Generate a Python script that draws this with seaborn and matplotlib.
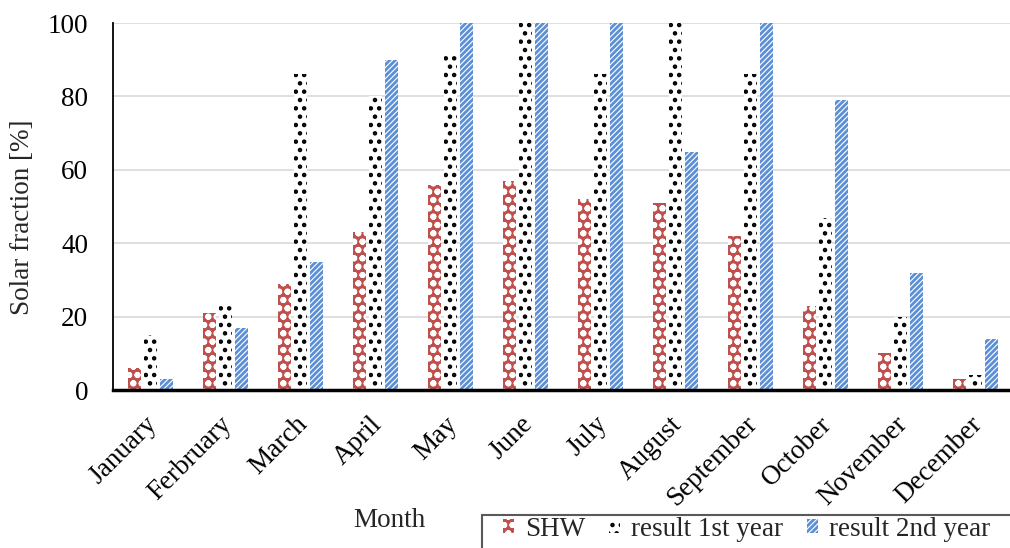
import pandas as pd
from matplotlib import pyplot as plt
from matplotlib.patches import Patch, Rectangle
import matplotlib.transforms as mtrans
import seaborn as sns

sns.set_style("white")
plt.rcParams['font.family'] = ['Liberation Serif', 'DejaVu Serif']
plt.rcParams['hatch.linewidth'] = 2.0

# 数据
months = ['January', 'Ferbruary', 'March', 'April', 'May', 'June', 'July',
          'August', 'September', 'October', 'November', 'December']
shw = [6, 21, 29, 43, 56, 57, 52, 51, 42, 23, 10, 3]
result_1st = [15, 23, 86, 80, 91, 100, 86, 100, 86, 47, 20, 4]
result_2nd = [3, 17, 35, 90, 100, 100, 100, 65, 100, 79, 32, 14]
series = ['SHW', 'result 1st year', 'result 2nd year']

df = pd.DataFrame({'Month': months * 3,
                   'value': shw + result_1st + result_2nd,
                   'series': [s for s in series for _ in months]})

fig = plt.figure(figsize=(10.1, 5.48), dpi=100)
ax = fig.add_axes([0.112, 0.288, 0.891, 0.67])
sns.barplot(data=df, x='Month', y='value', hue='series', ax=ax,
            width=0.627, gap=0.17, legend=False)

# 花纹
styles = {
    'SHW': dict(facecolor='#C0504D', edgecolor='white', hatch='oo'),
    'result 1st year': dict(facecolor='white', edgecolor='black', hatch='..'),
    'result 2nd year': dict(facecolor='white', edgecolor='#5B8FD6', hatch='//////'),
}
n = len(months)
for i, p in enumerate(ax.patches[:3 * n]):
    st = styles[series[i // n]]
    p.set_facecolor(st['facecolor'])
    p.set_edgecolor(st['edgecolor'])
    p.set_hatch(st['hatch'])
    p.set_linewidth(0)

fs = 19.5
ax.set_ylim(0, 100)
ax.set_yticks([0, 20, 40, 60, 80, 100])
ax.yaxis.grid(True, color='#d9d9d9', linewidth=1.2)
ax.set_axisbelow(True)
for s in ['right', 'top']:
    ax.spines[s].set_visible(False)
ax.spines['left'].set_color('black')
ax.spines['left'].set_linewidth(1.3)
ax.spines['bottom'].set_color('black')
ax.spines['bottom'].set_linewidth(2.5)
ax.tick_params(axis='y', length=0, labelsize=fs, colors='black', pad=18)
ax.tick_params(axis='x', length=0, labelsize=fs, colors='black', pad=4)
offset = mtrans.ScaledTranslation(-6 / 100, -16 / 100, fig.dpi_scale_trans)
for lab in ax.get_xticklabels():
    lab.set_rotation(45)
    lab.set_ha('right')
    lab.set_rotation_mode('anchor')
    lab.set_transform(lab.get_transform() + offset)
ax.set_xlabel('Month', fontsize=fs)
ax.xaxis.set_label_coords(0.307, -0.32)
ax.set_ylabel('Solar fraction [%]', fontsize=fs)
ax.yaxis.set_label_coords(-0.087, 0.47)

# 图例
fig.patches.append(Rectangle((482 / 1010, -0.1), 0.6, 0.1 + 1 - 515 / 548,
                             transform=fig.transFigure, fill=False,
                             edgecolor='#595959', linewidth=1.5))
handles = [Patch(**styles[s], linewidth=0, label=s) for s in series]
fig.legend(handles=handles, loc='upper left', bbox_to_anchor=(503 / 1010, 1 - 517 / 548),
           ncol=3, fontsize=fs, frameon=False,
           handlelength=0.4, handleheight=0.4, handletextpad=0.4, columnspacing=0.9,
           borderpad=0, borderaxespad=0)

fig.savefig('out.png', dpi=100)
